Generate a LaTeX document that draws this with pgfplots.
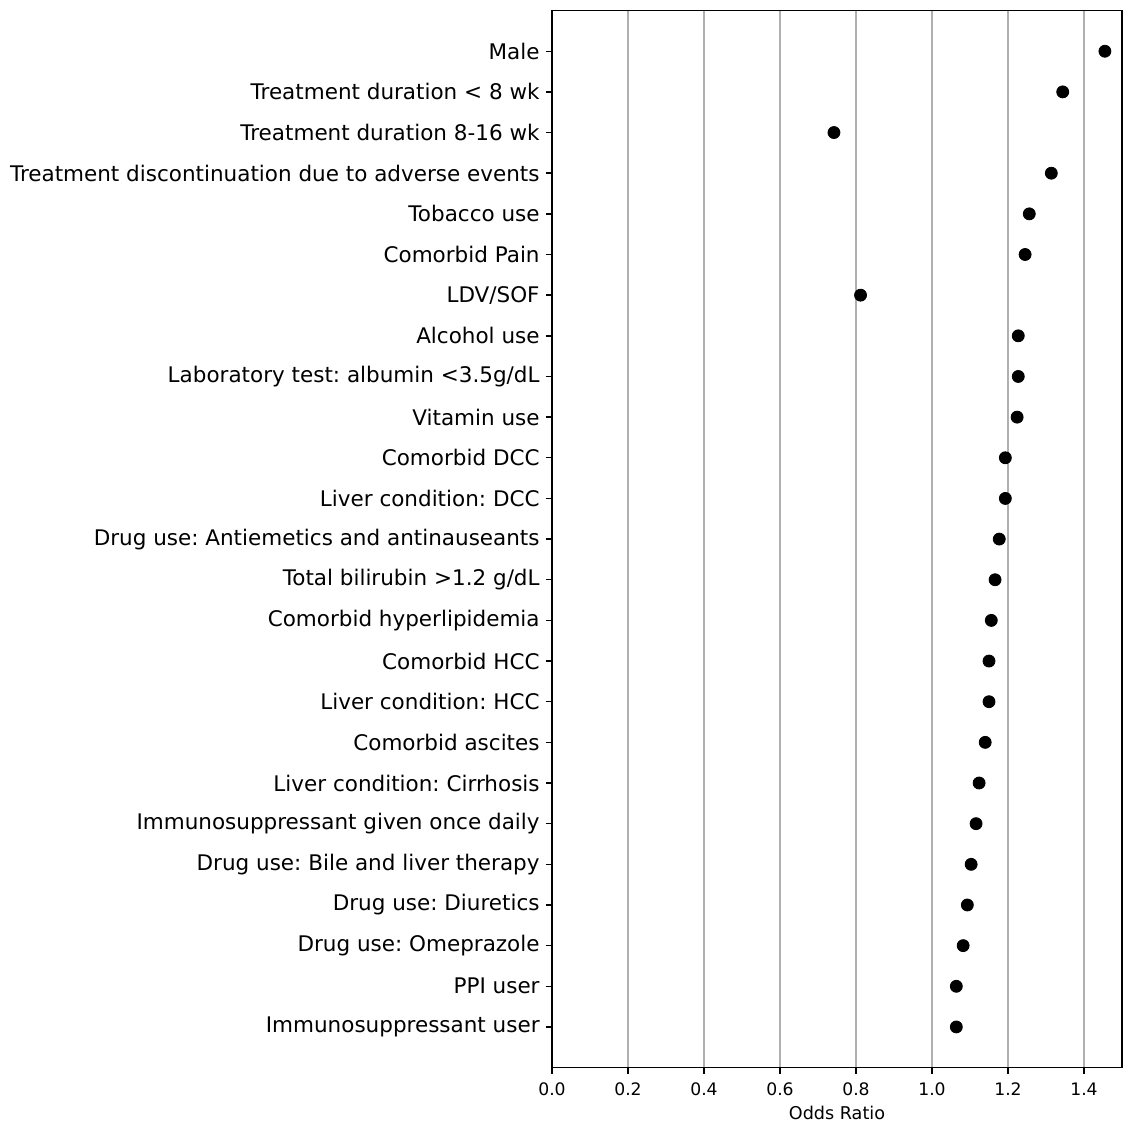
\documentclass[border=0pt]{standalone}
\usepackage{fontspec}
\setmainfont{DejaVu Sans}
\usepackage{pgfplots}
\pgfplotsset{compat=1.18}

\pgfplotstableread{
y  odds
0  1.064
1  1.064
2  1.082
3  1.093
4  1.103
5  1.116
6  1.124
7  1.140
8  1.150
9  1.150
10 1.156
11 1.166
12 1.177
13 1.193
14 1.193
15 1.224
16 1.227
17 1.227
18 0.812
19 1.245
20 1.256
21 1.314
22 0.742
23 1.344
24 1.455
}\oddsdata

\begin{document}
\frenchspacing
\begin{tikzpicture}
  \begin{axis}[
    scale only axis,
    width=285pt,
    height=528.5pt,
    xmin=0, xmax=1.5,
    ymin=-1, ymax=25,
    xtick={0,0.2,...,1.4},
    xticklabel style={/pgf/number format/fixed, /pgf/number format/fixed zerofill,
      /pgf/number format/precision=1, font=\fontsize{8.6}{10}\selectfont, inner ysep=4.5pt},
    /pgf/number format/assume math mode=true,
    ytick={0,...,24},
    yticklabels={
      Immunosuppressant user,
      PPI user,
      Drug use: Omeprazole,
      Drug use: Diuretics,
      Drug use: Bile and liver therapy,
      Immunosuppressant given once daily,
      Liver condition: Cirrhosis,
      Comorbid ascites,
      Liver condition: HCC,
      Comorbid HCC,
      Comorbid hyperlipidemia,
      Total bilirubin >1.2 g/dL,
      Drug use: Antiemetics and antinauseants,
      Liver condition: DCC,
      Comorbid DCC,
      Vitamin use,
      Laboratory test: albumin <3.5g/dL,
      Alcohol use,
      LDV/SOF,
      Comorbid Pain,
      Tobacco use,
      Treatment discontinuation due to adverse events,
      Treatment duration 8-16 wk,
      Treatment duration < 8 wk,
      Male
    },
    yticklabel style={font=\fontsize{10.75}{13}\selectfont, inner xsep=3pt},
    xlabel={Odds Ratio},
    xlabel style={font=\fontsize{8.8}{10}\selectfont, inner ysep=0.5pt},
    tick align=outside,
    tick pos=left,
    major tick length=3pt,
    every tick/.style={black, line width=0.7pt},
    axis line style={line width=0.7pt},
    xmajorgrids=true,
    ymajorgrids=false,
    major grid style={draw=black!31, line width=0.7pt},
  ]
  \addplot [only marks, mark=*, mark size=3pt, black] table [x=odds, y=y] {\oddsdata};
  \coordinate (sw) at (rel axis cs:0,0);
  \coordinate (ne) at (rel axis cs:1,1);
  \end{axis}
  \pgfresetboundingbox
  \path[use as bounding box] ([shift={(-276pt,-27pt)}]sw) rectangle ([shift={(2.5pt,5.3pt)}]ne);
\end{tikzpicture}
\end{document}
